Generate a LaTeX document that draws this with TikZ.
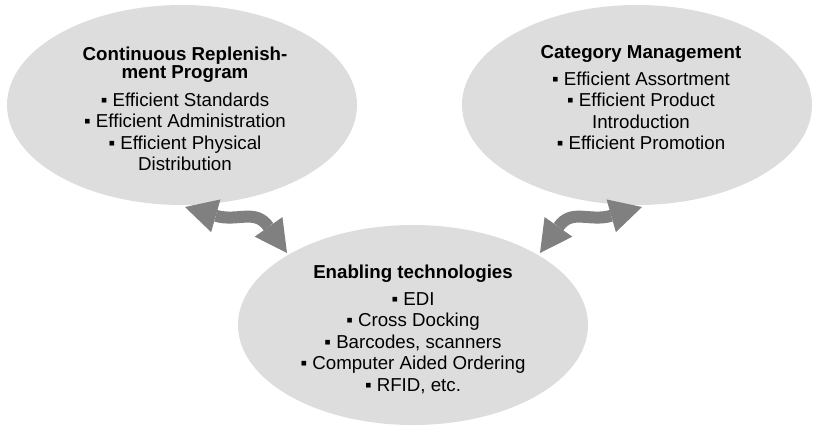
\documentclass[tikz,border=0pt]{standalone}
\usepackage{fontspec}
\setmainfont{Liberation Sans}
\usetikzlibrary{arrows.meta,shapes.geometric}
\definecolor{ellfill}{RGB}{221,221,221}
\definecolor{arrgray}{RGB}{128,128,128}
\begin{document}
\begin{tikzpicture}[x=1bp,y=-1bp,
  bubble/.style={ellipse, fill=ellfill, draw=none, minimum width=350bp, minimum height=200bp, inner sep=0pt},
  ttl/.style={anchor=base, font=\bfseries\fontsize{18.7bp}{21.5bp}\selectfont, inner sep=0pt},
  itm/.style={anchor=base, font=\fontsize{18.7bp}{21.5bp}\selectfont, inner sep=0pt},
  link/.style={draw=arrgray, line width=12bp,
    {Triangle[length=32bp,width=34bp,line width=0pt]}-{Triangle[length=32bp,width=34bp,line width=0pt]}}]
\useasboundingbox (0,0) rectangle (813,425);

% bubbles
\node[bubble] (crp) at (182,105) {};
\node[bubble] (cm)  at (637,105) {};
\node[bubble] (et)  at (413,325) {};

% left bubble text
\node[ttl] (crpt1) at (185,60)    {Continuous Replenish-};
\node[ttl] (crpt2) at (185,78.5)  {ment Program};
\node[itm] (crpi1) at (185,106)   {▪ Efficient Standards};
\node[itm] (crpi2) at (185,127.5) {▪ Efficient Administration};
\node[itm] (crpi3) at (185,149)   {▪ Efficient Physical};
\node[itm] (crpi4) at (185,170.5) {Distribution};

% right bubble text
\node[ttl] (cmt1) at (641,58.5)  {Category Management};
\node[itm] (cmi1) at (641,85)    {▪ Efficient Assortment};
\node[itm] (cmi2) at (641,106.5) {▪ Efficient Product};
\node[itm] (cmi3) at (641,128)   {Introduction};
\node[itm] (cmi4) at (641,149.5) {▪ Efficient Promotion};

% bottom bubble text
\node[ttl] (ett1) at (413,278)   {Enabling technologies};
\node[itm] (eti1) at (413,305)   {▪ EDI};
\node[itm] (eti2) at (413,326.5) {▪ Cross Docking};
\node[itm] (eti3) at (413,348)   {▪ Barcodes, scanners};
\node[itm] (eti4) at (413,369.5) {▪ Computer Aided Ordering};
\node[itm] (eti5) at (413,391)   {▪ RFID, etc.};

% connector ends
\coordinate (la) at (185,207);
\coordinate (lb) at (287,253);
\coordinate (ra) at (642,207);
\coordinate (rb) at (540,253);

\draw[link] (la) .. controls (237.9,222.1) and (255.3,208.1) .. (lb);
\draw[link] (ra) .. controls (589.1,222.1) and (571.7,208.1) .. (rb);
\end{tikzpicture}
\end{document}
